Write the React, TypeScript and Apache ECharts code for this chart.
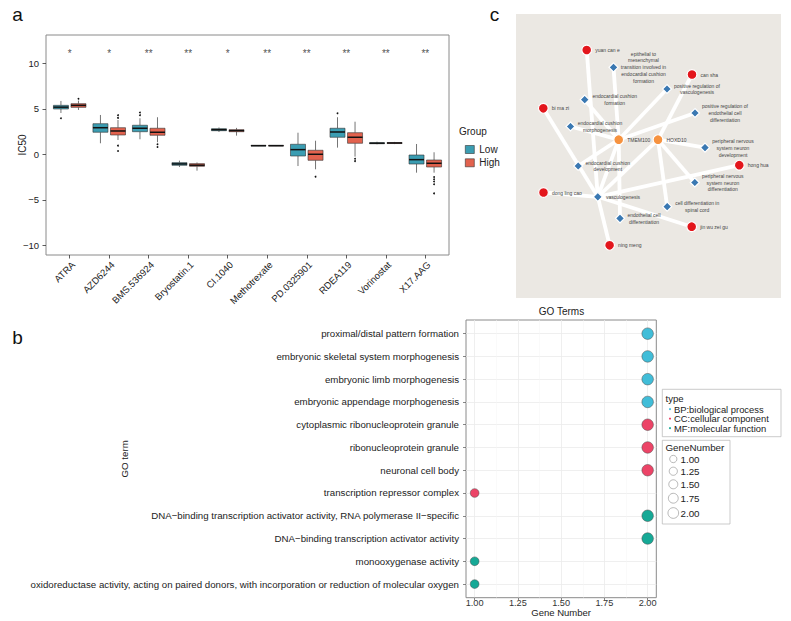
import React, { useEffect, useRef } from "react";
import * as echarts from "echarts";

const FONT = "'Liberation Sans', Arial, Helvetica, sans-serif";

// ---------------- Panel a : IC50 boxplots ----------------
const drugs = ["ATRA", "AZD6244", "BMS.536924", "Bryostatin.1", "CI.1040", "Methotrexate", "PD.0325901", "RDEA119", "Vorinostat", "X17.AAG"];
const groups = ["Low", "High"];
// [lower whisker, Q1, median, Q3, upper whisker]
const lowStats = [
  [4.54, 4.98, 5.18, 5.38, 5.86],
  [1.21, 2.42, 2.92, 3.36, 4.32],
  [1.65, 2.48, 2.86, 3.19, 3.96],
  [-1.4, -1.21, -1.06, -0.92, -0.7],
  [2.45, 2.59, 2.7, 2.81, 2.95],
  [0.9, 0.93, 0.95, 0.97, 1.0],
  [-1.29, -0.19, 0.51, 1.1, 2.37],
  [0.73, 1.87, 2.45, 2.86, 4.07],
  [1.1, 1.16, 1.22, 1.27, 1.38],
  [-2.02, -1.07, -0.59, -0.08, 1.13],
];
const highStats = [
  [4.87, 5.16, 5.38, 5.56, 5.9],
  [1.57, 2.12, 2.56, 2.92, 3.77],
  [1.32, 2.09, 2.42, 2.86, 4.07],
  [-1.8, -1.32, -1.2, -1.03, -0.9],
  [2.05, 2.48, 2.6, 2.7, 2.9],
  [0.9, 0.93, 0.95, 0.97, 1.0],
  [-1.65, -0.66, 0.0, 0.44, 1.49],
  [-0.26, 1.21, 1.87, 2.37, 3.58],
  [1.12, 1.18, 1.24, 1.29, 1.36],
  [-2.02, -1.4, -0.99, -0.63, 0.22],
];
const lowOutliers = [[3.96], [], [4.3, 4.6], [], [], [], [], [4.5], [], []];
const highOutliers = [[6.1], [4.0, 4.3, 0.95, 0.36], [1.1, 0.8], [], [], [], [-2.46], [-0.5, -0.75, -0.99], [], [-2.5, -2.75, -3.0, -3.3, -4.3]];
const sigLabels = ["*", "*", "**", "**", "*", "**", "**", "**", "**", "**"];
const sigLevel = 11.35;
const ic50Ticks = [-10, -5, 0, 5, 10];

// ---------------- Panel b : GO dot plot ----------------
const goTerms = [
  "proximal/distal pattern formation",
  "embryonic skeletal system morphogenesis",
  "embryonic limb morphogenesis",
  "embryonic appendage morphogenesis",
  "cytoplasmic ribonucleoprotein granule",
  "ribonucleoprotein granule",
  "neuronal cell body",
  "transcription repressor complex",
  "DNA\u2212binding transcription activator activity, RNA polymerase II\u2212specific",
  "DNA\u2212binding transcription activator activity",
  "monooxygenase activity",
  "oxidoreductase activity, acting on paired donors, with incorporation or reduction of molecular oxygen",
];
const goGeneNumber = [2, 2, 2, 2, 2, 2, 2, 1, 2, 2, 1, 1];
const goType = ["BP", "BP", "BP", "BP", "CC", "CC", "CC", "CC", "MF", "MF", "MF", "MF"];
const typeKeys = ["BP", "CC", "MF"];
const typeLabels = ["BP:biological process", "CC:cellular component", "MF:molecular function"];
const geneNumberTicks = [1, 1.25, 1.5, 1.75, 2];
const sizeLegendValues = [1.0, 1.25, 1.5, 1.75, 2.0];

// ---------------- Panel c : network ----------------
const netLabels = [
  "yuan can e",
  "epithelial to\nmesenchymal\ntransition involved in\nendocardial cushion\nformation",
  "can sha",
  "positive regulation of\nvasculogenesis",
  "endocardial cushion\nformation",
  "bi ma zi",
  "positive regulation of\nendothelial cell\ndifferentiation",
  "endocardial cushion\nmorphogenesis",
  "TMEM100",
  "HOXD10",
  "peripheral nervous\nsystem neuron\ndevelopment",
  "endocardial cushion\ndevelopment",
  "hong hua",
  "peripheral nervous\nsystem neuron\ndifferentiation",
  "dong ling cao",
  "vasculogenesis",
  "cell differentiation in\nspinal cord",
  "endothelial cell\ndifferentiation",
  "jin wu zei gu",
  "ning meng",
];
const netKinds = ["herb", "go", "herb", "go", "go", "herb", "go", "go", "gene", "gene", "go", "go", "herb", "go", "herb", "go", "go", "go", "herb", "herb"];
const netLinks = [
  [8, 1], [8, 3], [8, 4], [8, 6], [8, 7], [8, 11], [8, 15], [8, 17],
  [9, 2], [9, 10], [9, 13], [9, 16], [9, 15],
  [15, 0], [15, 5], [15, 14], [15, 12], [15, 18], [15, 19],
];
// layout (node placement inside the network panel, from the picture)
const netLayout = [
  [70.7, 36], [97.5, 53.3], [176, 60.5], [151, 75], [68.7, 85.7], [27.3, 94.3], [179, 99], [54.5, 112.5],
  [102.7, 125.7], [142, 125.7], [189, 133.7], [62.2, 152], [223.3, 151.2], [178.8, 168.5], [27.5, 178.5],
  [81.8, 182.8], [151.2, 192.7], [104, 204.3], [175.7, 212.7], [93.6, 231.3],
];
const netLabelDx = [null, 30, null, 30, 30, null, 30, 29.5, null, null, 28, 29.5, null, 28, null, null, 30, 24, null, null];

const isInt = (v: number) => Math.abs(v - Math.round(v)) < 1e-6;

function boxRenderer(stats: number[][], outliers: number[][], side: number, fill: string) {
  return function (params: any, api: any) {
    const i = params.dataIndex;
    const s = stats[i];
    const x = i + 1 + side * 0.222;
    const hw = api.size([0.19, 0])[0];
    const pLo = api.coord([x, s[0]]);
    const pQ1 = api.coord([x, s[1]]);
    const pMed = api.coord([x, s[2]]);
    const pQ3 = api.coord([x, s[3]]);
    const pHi = api.coord([x, s[4]]);
    const children: any[] = [
      { type: "line", shape: { x1: pLo[0], y1: pLo[1], x2: pQ1[0], y2: pQ1[1] }, style: { stroke: "#3a3a3a", lineWidth: 0.7 } },
      { type: "line", shape: { x1: pQ3[0], y1: pQ3[1], x2: pHi[0], y2: pHi[1] }, style: { stroke: "#3a3a3a", lineWidth: 0.7 } },
      {
        type: "rect",
        shape: { x: pQ3[0] - hw, y: pQ3[1], width: 2 * hw, height: Math.max(pQ1[1] - pQ3[1], 0.6) },
        style: { fill, stroke: "#333", lineWidth: 0.6 },
      },
      { type: "line", shape: { x1: pMed[0] - hw, y1: pMed[1], x2: pMed[0] + hw, y2: pMed[1] }, style: { stroke: "#111", lineWidth: 1.5 } },
    ];
    outliers[i].forEach((v) => {
      const p = api.coord([x, v]);
      children.push({ type: "circle", shape: { cx: p[0], cy: p[1], r: 0.9 }, style: { fill: "#111" } });
    });
    return { type: "group", children };
  };
}

function buildOption() {
  const lowColor = "#3B9DB2";
  const highColor = "#E2624E";
  const typeColors: Record<string, string> = { BP: "#41BDD8", CC: "#EC4467", MF: "#16A996" };
  const kindColor: Record<string, string> = { herb: "#E3161C", gene: "#F6923F", go: "#3A78B2" };

  const graphics: any[] = [
    { type: "text", x: 17.5, y: 14.5, style: { text: "a", fontSize: 19, fill: "#111", align: "center", verticalAlign: "middle", fontFamily: FONT } },
    { type: "text", x: 17.5, y: 337.5, style: { text: "b", fontSize: 19, fill: "#111", align: "center", verticalAlign: "middle", fontFamily: FONT } },
    { type: "text", x: 494.5, y: 14.5, style: { text: "c", fontSize: 19, fill: "#111", align: "center", verticalAlign: "middle", fontFamily: FONT } },
    { type: "text", x: 459, y: 131, style: { text: "Group", fontSize: 10, fill: "#222", verticalAlign: "middle", fontFamily: FONT } },
    { type: "text", x: 561.5, y: 311, style: { text: "GO Terms", fontSize: 10, fill: "#222", align: "center", verticalAlign: "middle", fontFamily: FONT } },
    // type legend
    { type: "rect", shape: { x: 662.3, y: 389.3, width: 118.7, height: 47.4 }, style: { fill: "#fff", stroke: "#b5b5b5", lineWidth: 0.7 } },
    { type: "text", x: 665.5, y: 398.3, style: { text: "type", fontSize: 9.6, fill: "#222", verticalAlign: "middle", fontFamily: FONT } },
    // size legend
    { type: "rect", shape: { x: 662.3, y: 440.3, width: 67.7, height: 83.7 }, style: { fill: "#fff", stroke: "#b5b5b5", lineWidth: 0.7 } },
    { type: "text", x: 665.5, y: 447, style: { text: "GeneNumber", fontSize: 9.8, fill: "#222", verticalAlign: "middle", fontFamily: FONT } },
  ];
  typeLabels.forEach((t, i) => {
    const y = 409.1 + i * 9.5;
    graphics.push({ type: "circle", shape: { cx: 670, cy: y, r: 1.1 }, style: { fill: typeColors[typeKeys[i]] } });
    graphics.push({
      type: "text",
      x: 674,
      y,
      style: { text: t, fontSize: 9.4, lineHeight: 9.4, fill: "#222", verticalAlign: "middle", fontFamily: FONT },
    });
  });
  let yPrev = 459;
  let dPrev = 0;
  sizeLegendValues.forEach((v, i) => {
    const d = 7.3 + (v - 1) * 3.4;
    const y = i === 0 ? 459 : yPrev + (dPrev + d) / 2 + 4.5;
    graphics.push({ type: "circle", shape: { cx: 673.3, cy: y, r: d / 2 }, style: { fill: "#fff", stroke: "#9a9a9a", lineWidth: 0.7 } });
    graphics.push({ type: "text", x: 680.5, y, style: { text: v.toFixed(2), fontSize: 9.8, fill: "#222", verticalAlign: "middle", fontFamily: FONT } });
    yPrev = y;
    dPrev = d;
  });

  const netNames = netLabels.map((l) => l.replace(/\n/g, " "));

  const option: any = {
    animation: false,
    textStyle: { fontFamily: FONT },
    graphic: graphics,
    legend: {
      data: groups,
      left: 460,
      top: 139.5,
      orient: "vertical",
      icon: "rect",
      itemWidth: 9,
      itemHeight: 8,
      itemGap: 3.3,
      selectedMode: false,
      itemStyle: { borderColor: "#333", borderWidth: 0.6 },
      textStyle: { fontSize: 10, color: "#222", fontFamily: FONT },
    },
    grid: [
      { left: 46, top: 35, width: 403, height: 220, show: true, borderColor: "#8a8a8a", borderWidth: 1, backgroundColor: "#fff", containLabel: false },
      { left: 466, top: 320, width: 190.3, height: 277.7, show: true, borderColor: "#8a8a8a", borderWidth: 1, backgroundColor: "#fff", containLabel: false },
      { left: 516, top: 14, width: 265, height: 284, show: true, borderWidth: 0, backgroundColor: "#EBE8E3", containLabel: false },
    ],
    xAxis: [
      {
        type: "value",
        gridIndex: 0,
        position: "bottom",
        min: 0.4,
        max: 10.6,
        minInterval: 1,
        maxInterval: 1,
        axisLine: { show: false, onZero: false },
        axisTick: { show: true, length: 3.5, lineStyle: { color: "#333", width: 0.8 }, customValues: drugs.map((_, i) => i + 1) },
        axisLabel: {
          rotate: 45,
          align: "right",
          verticalAlign: "top",
          fontSize: 9.5,
          color: "#222",
          margin: 4.5,
          customValues: drugs.map((_, i) => i + 1),
          formatter: (v: number) => (isInt(v) && v >= 1 && v <= drugs.length ? drugs[Math.round(v) - 1] : ""),
        },
        splitLine: { show: false },
      },
      {
        type: "value",
        gridIndex: 1,
        position: "bottom",
        min: 0.95,
        max: 2.05,
        minInterval: 0.25,
        maxInterval: 0.25,
        name: "Gene Number",
        nameLocation: "middle",
        nameGap: 10,
        nameMoveOverlap: false,
        nameTextStyle: { fontSize: 9.5, color: "#222" },
        axisLine: { show: false, onZero: false },
        axisTick: { show: true, length: 2.5, lineStyle: { color: "#555", width: 0.7 }, customValues: geneNumberTicks },
        axisLabel: {
          fontSize: 9.2,
          color: "#333",
          margin: 0.5,
          customValues: geneNumberTicks,
          formatter: (v: number) => v.toFixed(2),
        },
        splitLine: { show: true, lineStyle: { color: "#ebebeb", width: 0.8 } },
        minorTick: { show: false, splitNumber: 2 },
        minorSplitLine: { show: true, lineStyle: { color: "#f4f4f4", width: 0.5 } },
      },
      { type: "value", gridIndex: 2, min: 0, max: 265, show: false, axisLine: { onZero: false }, splitLine: { show: false } },
    ],
    yAxis: [
      {
        type: "value",
        gridIndex: 0,
        position: "left",
        min: -11.07,
        max: 13.11,
        minInterval: 5,
        maxInterval: 5,
        name: "IC50",
        nameLocation: "middle",
        nameGap: 19,
        nameMoveOverlap: false,
        nameTextStyle: { fontSize: 10, color: "#222" },
        axisLine: { show: false, onZero: false },
        axisTick: { show: true, length: 3.5, lineStyle: { color: "#333", width: 0.8 }, customValues: ic50Ticks },
        axisLabel: {
          fontSize: 9.5,
          color: "#222",
          margin: 7,
          customValues: ic50Ticks,
          formatter: (v: number) => (isInt(v) && Math.round(v) % 5 === 0 ? String(Math.round(v)).replace("-", "\u2212") : ""),
        },
        splitLine: { show: false },
      },
      {
        type: "value",
        gridIndex: 1,
        position: "left",
        min: 0.4,
        max: 12.6,
        inverse: true,
        minInterval: 1,
        maxInterval: 1,
        name: "GO term",
        nameLocation: "middle",
        nameGap: 337,
        nameMoveOverlap: false,
        nameTextStyle: { fontSize: 9.7, color: "#222" },
        axisLine: { show: false, onZero: false },
        axisTick: { show: true, length: 3, lineStyle: { color: "#555", width: 0.7 }, customValues: goTerms.map((_, i) => i + 1) },
        axisLabel: {
          fontSize: 9.7,
          color: "#222",
          margin: 7,
          customValues: goTerms.map((_, i) => i + 1),
          formatter: (v: number) => (isInt(v) && v >= 1 && v <= goTerms.length ? goTerms[Math.round(v) - 1] : ""),
        },
        splitLine: { show: true, lineStyle: { color: "#ebebeb", width: 0.8 } },
      },
      { type: "value", gridIndex: 2, min: 0, max: 284, inverse: true, show: false, axisLine: { onZero: false }, splitLine: { show: false } },
    ],
    series: [
      {
        name: "Low",
        type: "custom",
        xAxisIndex: 0,
        yAxisIndex: 0,
        itemStyle: { color: lowColor, borderColor: "#333", borderWidth: 0.6 },
        renderItem: boxRenderer(lowStats, lowOutliers, -1, lowColor),
        encode: { x: 0, y: [1, 2, 3, 4, 5] },
        data: lowStats.map((s, i) => [i + 1, ...s]),
        label: { show: false },
        silent: true,
      },
      {
        name: "High",
        type: "custom",
        xAxisIndex: 0,
        yAxisIndex: 0,
        itemStyle: { color: highColor, borderColor: "#333", borderWidth: 0.6 },
        renderItem: boxRenderer(highStats, highOutliers, 1, highColor),
        encode: { x: 0, y: [1, 2, 3, 4, 5] },
        data: highStats.map((s, i) => [i + 1, ...s]),
        label: { show: false },
        silent: true,
      },
      {
        name: "sig",
        type: "scatter",
        xAxisIndex: 0,
        yAxisIndex: 0,
        symbol: "rect",
        symbolSize: 1,
        itemStyle: { color: "rgba(0,0,0,0)" },
        label: {
          show: true,
          position: "inside",
          offset: [0, 2.2],
          fontSize: 10,
          color: "#222",
          formatter: (p: any) => sigLabels[p.dataIndex],
        },
        data: sigLabels.map((_, i) => [i + 1, sigLevel]),
        silent: true,
      },
      ...typeKeys.map((t) => ({
        name: t,
        type: "scatter",
        xAxisIndex: 1,
        yAxisIndex: 1,
        symbol: "circle",
        symbolSize: (val: number[]) => 8.7 + (val[0] - 1) * 2.8,
        itemStyle: { color: typeColors[t], borderColor: "#4a4a4a", borderWidth: 0.5, opacity: 1 },
        data: goTerms.map((_, i) => i).filter((i) => goType[i] === t).map((i) => [goGeneNumber[i], i + 1]),
        silent: true,
      })),
      {
        type: "graph",
        coordinateSystem: "cartesian2d",
        xAxisIndex: 2,
        yAxisIndex: 2,
        layout: "none",
        silent: true,
        roam: false,
        edgeSymbol: ["none", "none"],
        lineStyle: { color: "#ffffff", width: 3.8, opacity: 1, curveness: 0 },
        emphasis: { disabled: true },
        data: netNames.map((n, i) => {
          const kind = netKinds[i];
          const dx = netLabelDx[i];
          const label =
            dx == null
              ? { show: true, position: "right", distance: 3, fontSize: 5, color: "#444", formatter: netLabels[i] }
              : {
                  show: true,
                  position: "inside",
                  offset: [dx, 0],
                  align: "center",
                  verticalAlign: "middle",
                  fontSize: 5,
                  lineHeight: 6.9,
                  color: "#444",
                  formatter: netLabels[i],
                };
          return {
            name: n,
            value: netLayout[i],
            symbol: kind === "go" ? "diamond" : "circle",
            symbolSize: kind === "go" ? 9 : 9.8,
            itemStyle: { color: kindColor[kind], borderColor: "#ffffff", borderWidth: 1.2 },
            label,
          };
        }),
        links: netLinks.map(([s, t]) => ({ source: netNames[s], target: netNames[t] })),
      },
    ],
  };
  return option;
}

export default function App() {
  const ref = useRef<HTMLDivElement>(null);
  useEffect(() => {
    if (!ref.current) return;
    const chart = echarts.init(ref.current, null, { renderer: "svg" });
    chart.setOption(buildOption());
    return () => {
      chart.dispose();
    };
  }, []);
  return <div ref={ref} style={{ position: "fixed", left: 0, top: 0, width: 791, height: 621, background: "#fff" }} />;
}
